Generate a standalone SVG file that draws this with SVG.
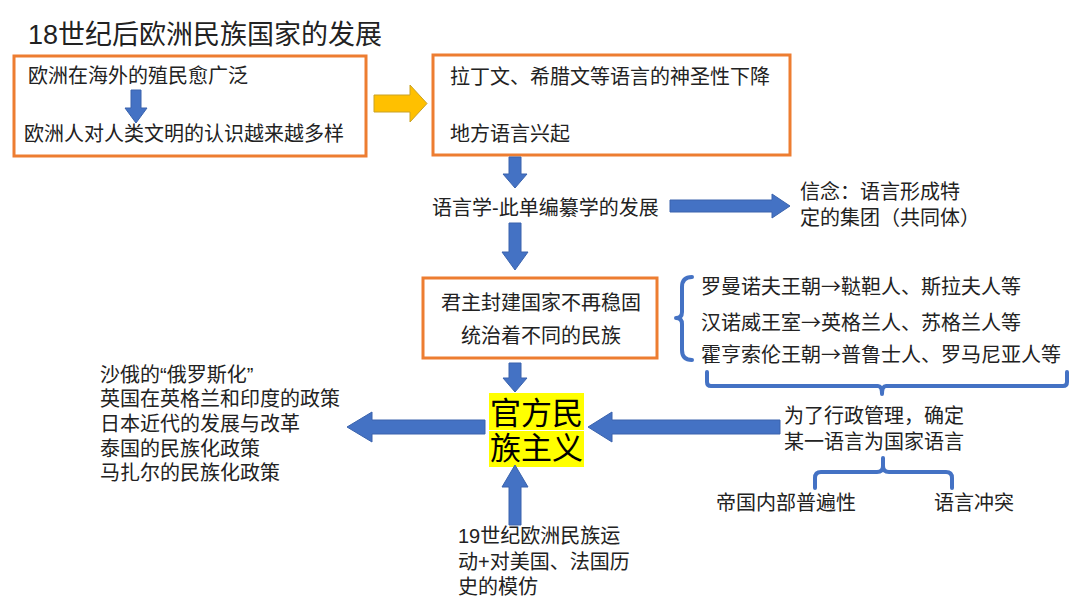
<svg xmlns="http://www.w3.org/2000/svg" width="1080" height="605" viewBox="0 0 1080 605">
<style>
text{font-family:"Liberation Sans","Noto Sans CJK SC",sans-serif;font-size:20px;fill:#222}
.cjk{font-family:"Noto Sans CJK SC",sans-serif}
.box{fill:#fff;stroke:#ED7D31;stroke-width:3}
.ba{fill:#4472C4;stroke:#3A63AD;stroke-width:1}
.br{fill:none;stroke:#4472C4;stroke-width:4;stroke-linejoin:round;stroke-linecap:round}
</style>
<rect width="1080" height="605" fill="#fff"/>
<text x="28" y="44" style="font-size:27px">18世纪后欧洲民族国家的发展</text>
<g id="box1">
<rect class="box" x="14" y="56" width="352" height="100"/>
<text x="28" y="83">欧洲在海外的殖民愈广泛</text>
<text x="24" y="141">欧洲人对人类文明的认识越来越多样</text>
</g>
<g id="box2">
<rect class="box" x="433" y="55" width="357" height="100"/>
<text x="450" y="84">拉丁文、希腊文等语言的神圣性下降</text>
<text x="450" y="141">地方语言兴起</text>
</g>
<g id="linguistics"><text x="432" y="215">语言学-此单编纂学的发展</text></g>
<g id="belief">
<text x="800" y="199">信念：语言形成特</text>
<text x="800" y="225">定的集团（共同体）</text>
</g>
<g id="box3">
<rect class="box" x="423" y="278" width="234" height="80"/>
<text x="541" y="310" text-anchor="middle">君主封建国家不再稳固</text>
<text x="541" y="343" text-anchor="middle">统治着不同的民族</text>
</g>
<g id="dynasties">
<text class="cjk" x="701" y="294">罗曼诺夫王朝→鞑靼人、斯拉夫人等</text>
<text class="cjk" x="701" y="330">汉诺威王室→英格兰人、苏格兰人等</text>
<text class="cjk" x="701" y="362">霍亨索伦王朝→普鲁士人、罗马尼亚人等</text>
</g>
<g id="official">
<rect x="489" y="393" width="95" height="37" fill="#FFFF00"/>
<rect x="489" y="431" width="95" height="36" fill="#FFFF00"/>
<text x="490" y="424" style="font-size:31px;fill:#000">官方民</text>
<text x="490" y="459" style="font-size:31px;fill:#000">族主义</text>
</g>
<g id="examples">
<text x="100" y="382">沙俄的“俄罗斯化”</text>
<text x="100" y="406">英国在英格兰和印度的政策</text>
<text x="100" y="431">日本近代的发展与改革</text>
<text x="100" y="456">泰国的民族化政策</text>
<text x="100" y="480">马扎尔的民族化政策</text>
</g>
<g id="admin">
<text x="784" y="423">为了行政管理，确定</text>
<text x="784" y="449">某一语言为国家语言</text>
</g>
<g id="universal"><text x="716" y="510">帝国内部普遍性</text></g>
<g id="conflict"><text x="934" y="510">语言冲突</text></g>
<g id="movement">
<text x="458" y="543">19世纪欧洲民族运</text>
<text x="458" y="569">动+对美国、法国历</text>
<text x="458" y="594">史的模仿</text>
</g>
<g id="connectors">
<polygon class="ba" points="131,90 141,90 141,108 147,108 136,123 125,108 131,108"/>
<polygon points="374,95 410,95 410,85 427,103.5 410,122 410,112 374,112" fill="#FFC000" stroke="#C9A227" stroke-width="1"/>
<polygon class="ba" points="509,157 521,157 521,174 527,174 515,188 503,174 509,174"/>
<polygon class="ba" points="670,200 772,200 772,194 790,206 772,218 772,212 670,212"/>
<polygon class="ba" points="509,223 521,223 521,252 528,252 515,270 502,252 509,252"/>
<polygon class="ba" points="509,363 521,363 521,378 527,378 515,392 503,378 509,378"/>
<polygon class="ba" points="485,420 372,420 372,412 347,427 372,442 372,434 485,434"/>
<polygon class="ba" points="780,420 612,420 612,412 588,427 612,442 612,434 780,434"/>
<polygon class="ba" points="509,525 521,525 521,487 528,487 515,465 502,487 509,487"/>
<path class="br" d="M692,277 Q682,277 682,287 L682,312 Q682,318 676,318 Q682,318 682,324 L682,350 Q682,360 692,360"/>
<path class="br" d="M707,372 L707,382 Q707,386 711,386 L878,386 Q882,386 882,394 Q882,386 886,386 L1063,386 Q1067,386 1067,382 L1067,372"/>
<path class="br" d="M883,458 L883,466 Q883,472 877,472 L821,472 Q815,472 815,478 L815,488 M883,466 Q883,472 889,472 L946,472 Q952,472 952,478 L952,488"/>
</g>
</svg>
